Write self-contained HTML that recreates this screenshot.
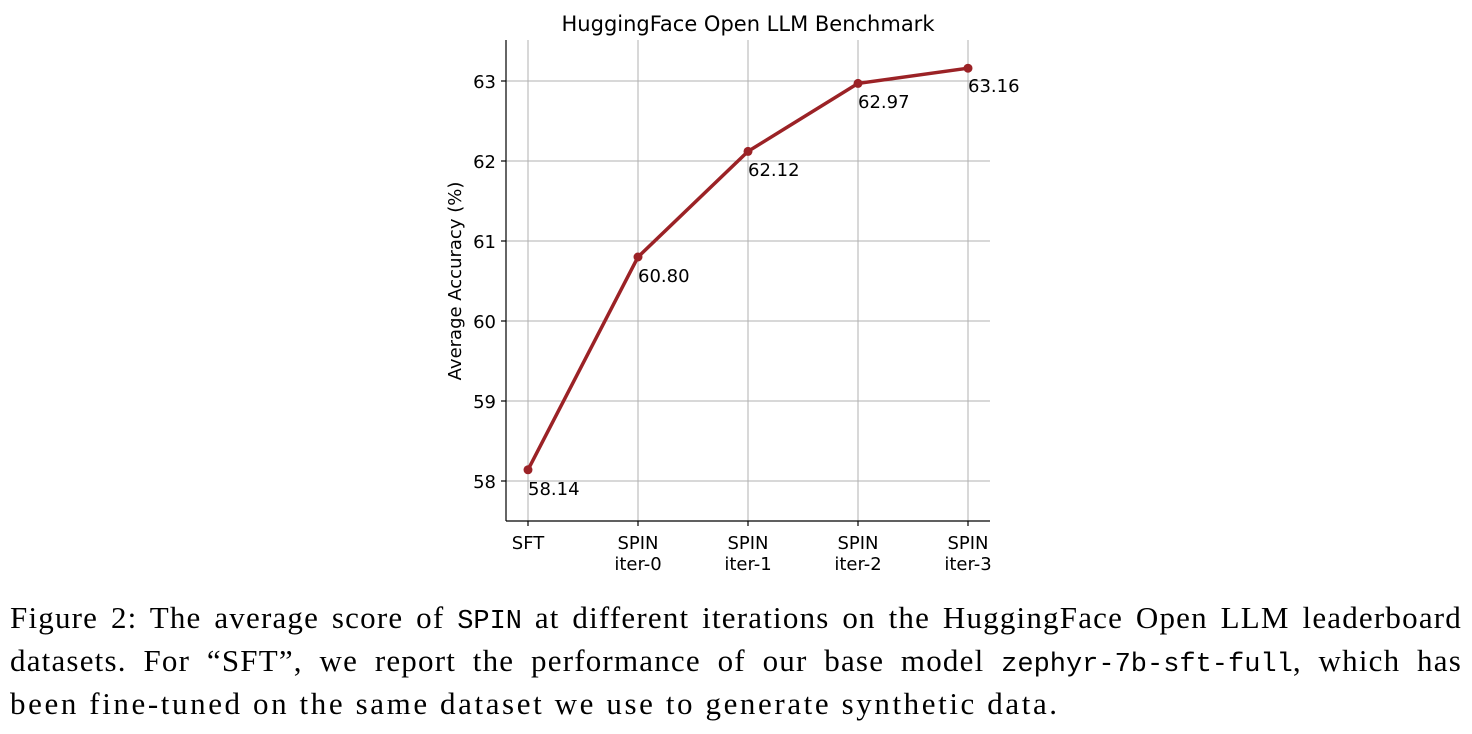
<!DOCTYPE html>
<html><head><meta charset="utf-8"><style>
body{margin:0;background:#fff;width:1472px;height:734px;overflow:hidden;position:relative}
.cap{position:absolute;left:10px;width:1452px;font-family:"Liberation Serif",serif;font-size:31px;letter-spacing:1.2px;word-spacing:0;color:#000;white-space:nowrap;text-align:justify;text-align-last:justify}
.m{font-family:"Liberation Mono",monospace;font-size:27px;letter-spacing:0}
</style></head><body>
<svg width="1472" height="590" style="position:absolute;left:0;top:0" font-family="DejaVu Sans, Liberation Sans, sans-serif">
<g stroke="#b0b0b0" stroke-width="1">
<line x1="528" y1="40" x2="528" y2="521"/><line x1="638" y1="40" x2="638" y2="521"/><line x1="748" y1="40" x2="748" y2="521"/><line x1="858" y1="40" x2="858" y2="521"/><line x1="968" y1="40" x2="968" y2="521"/>
<line x1="506" y1="81" x2="990" y2="81"/><line x1="506" y1="161" x2="990" y2="161"/><line x1="506" y1="241" x2="990" y2="241"/><line x1="506" y1="321" x2="990" y2="321"/><line x1="506" y1="401" x2="990" y2="401"/><line x1="506" y1="481" x2="990" y2="481"/>
</g>
<g stroke="#000" stroke-width="1.2">
<line x1="506" y1="40" x2="506" y2="521"/><line x1="506" y1="521" x2="990" y2="521"/>
<line x1="501" y1="81" x2="506" y2="81"/><line x1="501" y1="161" x2="506" y2="161"/><line x1="501" y1="241" x2="506" y2="241"/><line x1="501" y1="321" x2="506" y2="321"/><line x1="501" y1="401" x2="506" y2="401"/><line x1="501" y1="481" x2="506" y2="481"/>
<line x1="528" y1="521" x2="528" y2="526"/><line x1="638" y1="521" x2="638" y2="526"/><line x1="748" y1="521" x2="748" y2="526"/><line x1="858" y1="521" x2="858" y2="526"/><line x1="968" y1="521" x2="968" y2="526"/>
</g>
<g font-size="18" text-anchor="end" fill="#000">
<text x="496" y="88">63</text><text x="496" y="168">62</text><text x="496" y="248">61</text><text x="496" y="328">60</text><text x="496" y="408">59</text><text x="496" y="488">58</text>
</g>
<g font-size="18" text-anchor="middle" fill="#000">
<text x="528" y="549">SFT</text>
<text x="638" y="549">SPIN</text><text x="638" y="570">iter-0</text>
<text x="748" y="549">SPIN</text><text x="748" y="570">iter-1</text>
<text x="858" y="549">SPIN</text><text x="858" y="570">iter-2</text>
<text x="968" y="549">SPIN</text><text x="968" y="570">iter-3</text>
<text x="748" y="31" font-size="21">HuggingFace Open LLM Benchmark</text>
<text transform="translate(461,281) rotate(-90)">Average Accuracy (%)</text>
</g>
<polyline points="528,469.8 638,257 748,151.4 858,83.4 968,68.2" fill="none" stroke="#9b2226" stroke-width="3.5"/>
<g fill="#9b2226"><circle cx="528" cy="469.8" r="4.5"/><circle cx="638" cy="257" r="4.5"/><circle cx="748" cy="151.4" r="4.5"/><circle cx="858" cy="83.4" r="4.5"/><circle cx="968" cy="68.2" r="4.5"/></g>
<g font-size="18" fill="#000">
<text x="528" y="495">58.14</text><text x="638" y="282">60.80</text><text x="748" y="176">62.12</text><text x="858" y="108">62.97</text><text x="968" y="92">63.16</text>
</g>
</svg>
<div class="cap" style="top:600px">Figure 2: The average score of <span class="m">SPIN</span> at different iterations on the HuggingFace Open LLM leaderboard</div>
<div class="cap" style="top:643px">datasets. For “SFT”, we report the performance of our base model <span class="m">zephyr-7b-sft-full</span>, which has</div>
<div class="cap" style="top:686px;text-align-last:left;width:auto;letter-spacing:2.6px">been fine-tuned on the same dataset we use to generate synthetic data.</div>
</body></html>
